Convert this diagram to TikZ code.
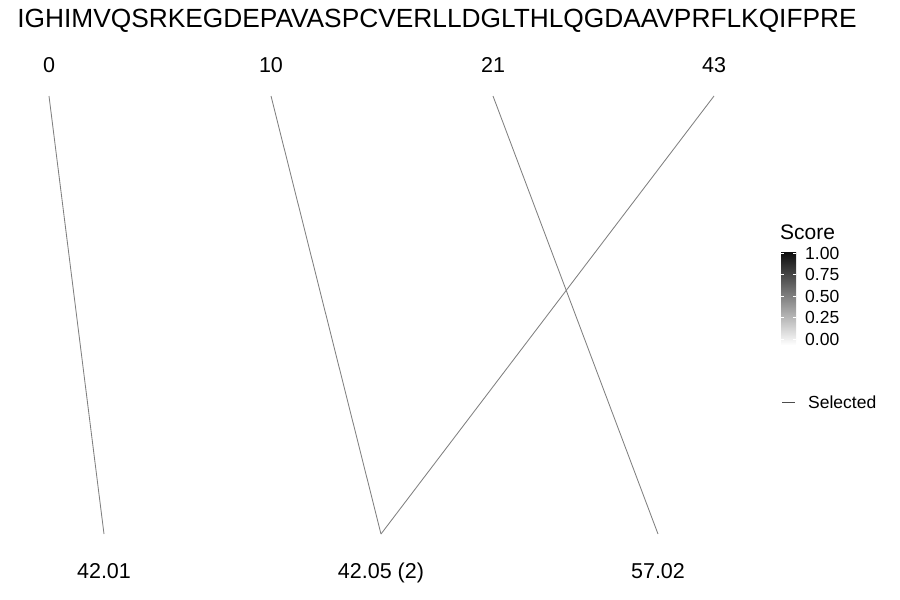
\documentclass[tikz,border=0pt]{standalone}
\usepackage{fontspec}
\setmainfont{Liberation Sans}
\usetikzlibrary{positioning}

\begin{document}
\begin{tikzpicture}[x=1pt,y=-1pt,
  fragpos/.style={font=\fontsize{21.5}{21.5}\selectfont,inner sep=0pt,anchor=base},
  mass/.style={font=\fontsize{21.5}{21.5}\selectfont,inner sep=0pt,anchor=base},
  link/.style={draw=black!50,line width=.85pt},
  legtext/.style={font=\fontsize{17.5}{17.5}\selectfont,inner sep=0pt,anchor=west}
  ]
  \useasboundingbox (0,0) rectangle (900,600);
  \node[font=\fontsize{26.3}{26.3}\selectfont,inner sep=0pt] (seq) at (437,21) {IGHIMVQSRKEGDEPAVASPCVERLLDGLTHLQGDAAVPRFLKQIFPRE};
  % fragment positions
  \node[fragpos] (p0) at (49,72.5) {0};
  \node[fragpos] (p10) at (271,72.5) {10};
  \node[fragpos] (p21) at (493,72.5) {21};
  \node[fragpos] (p43) at (714,72.5) {43};
  \coordinate (t0) at (49,96);
  \coordinate (t10) at (271,96);
  \coordinate (t21) at (493,96);
  \coordinate (t43) at (714,96);
  % masses
  \coordinate (b1) at (104,534);
  \coordinate (b2) at (381,534);
  \coordinate (b3) at (658,534);
  \node[mass] (m1) at (104,578) {42.01};
  \node[mass] (m2) at (381,578) {42.05 (2)};
  \node[mass] (m3) at (658,578) {57.02};
  \draw[link] (t0) -- (b1);
  \draw[link] (t10) -- (b2);
  \draw[link] (t21) -- (b3);
  \draw[link] (t43) -- (b2);
  % legend
  \node[font=\fontsize{21}{21}\selectfont,inner sep=0pt,anchor=west] (score) at (780,232) {Score};
  \shade[top color=black!95,bottom color=white] (781,252) rectangle (796,345);
  \foreach \v/\y in {1.00/253,0.75/274.5,0.50/296,0.25/317.5,0.00/339}{
    \draw[white,line width=.5pt] (781,\y) -- (784,\y) (793,\y) -- (796,\y);
    \node[legtext] at (805,\y) {\v};
  }
  \coordinate (s1) at (782,402);
  \coordinate (s2) at (795,402);
  \draw[black!70,line width=.8pt] (s1) -- (s2);
  \node[legtext,font=\fontsize{17.5}{17.5}\selectfont] (sel) at (808,402) {Selected};
\end{tikzpicture}
\end{document}
